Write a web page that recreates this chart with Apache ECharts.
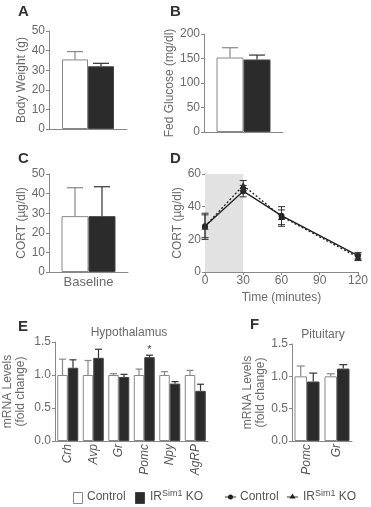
<!DOCTYPE html>
<html>
<head>
<meta charset="utf-8">
<script src="https://cdn.jsdelivr.net/npm/echarts@6/dist/echarts.min.js"></script>
<style>
  html, body { margin: 0; padding: 0; background: #fff; }
  #main { width: 371px; height: 507px; }
</style>
</head>
<body>
<div id="main"></div>
<script>
// panel A / B / C : control vs IR KO
var weightCtl = [35.5], weightCtlErr = [39.5];
var weightKo = [32], weightKoErr = [33.5];
var glucoseCtl = [152], glucoseCtlErr = [172];
var glucoseKo = [148], glucoseKoErr = [157];
var baseCats = ['Baseline'];
var cortCtl = [28.5], cortCtlErr = [43];
var cortKo = [28.5], cortKoErr = [43.5];

// panel D : time course
var timePts = [0, 30, 60, 120];
var timeCtl = [28, 49.5, 34.5, 10];
var timeCtlLo = [21, 46, 29, 8];
var timeCtlHi = [35, 53, 40, 12];
var timeKo = [28, 53, 34, 9];
var timeKoLo = [20, 50, 28, 7];
var timeKoHi = [36, 56, 38, 11];

// panel E : hypothalamus
var hypoGenes = ['Crh', 'Avp', 'Gr', 'Pomc', 'Npy', 'AgRP'];
var hypoCtl = [1.0, 1.0, 1.0, 1.0, 1.0, 1.0];
var hypoCtlErr = [1.24, 1.22, 1.02, 1.09, 1.05, 1.07];
var hypoKo = [1.11, 1.26, 0.97, 1.27, 0.87, 0.76];
var hypoKoErr = [1.23, 1.39, 1.01, 1.30, 0.90, 0.86];

// panel F : pituitary
var pitGenes = ['Pomc', 'Gr'];
var pitCtl = [1.0, 1.0];
var pitCtlErr = [1.16, 1.04];
var pitKo = [0.92, 1.12];
var pitKoErr = [1.05, 1.18];

var fontF = 'Liberation Sans, Arial, sans-serif';
var axisCol = '#888';
var txtCol = '#6a6a6a';
var blackFill = '#2b2b2b';

var myChart = echarts.init(document.getElementById('main'));

function errPairs(vals, tops) {
    return vals.map(function (v, i) { return [i, v, tops[i]]; });
}

// upward error bar over a bar, offset from the category centre
function barErr(offset, cap) {
    return function (params, api) {
        var b = api.coord([api.value(0), api.value(1)]);
        var t = api.coord([api.value(0), api.value(2)]);
        var x = b[0] + offset;
        var st = { stroke: api.visual('color'), lineWidth: 1.2 };
        return {
            type: 'group',
            children: [
                { type: 'line', shape: { x1: x, y1: b[1], x2: x, y2: t[1] }, style: st },
                { type: 'line', shape: { x1: x - cap / 2, y1: t[1], x2: x + cap / 2, y2: t[1] }, style: st }
            ]
        };
    };
}
// two-sided error bar on a value axis
function lineErr(cap) {
    return function (params, api) {
        var lo = api.coord([api.value(0), api.value(1)]);
        var hi = api.coord([api.value(0), api.value(2)]);
        var st = { stroke: '#333', lineWidth: 1 };
        return {
            type: 'group',
            children: [
                { type: 'line', shape: { x1: lo[0], y1: lo[1], x2: hi[0], y2: hi[1] }, style: st },
                { type: 'line', shape: { x1: lo[0] - cap / 2, y1: lo[1], x2: lo[0] + cap / 2, y2: lo[1] }, style: st },
                { type: 'line', shape: { x1: hi[0] - cap / 2, y1: hi[1], x2: hi[0] + cap / 2, y2: hi[1] }, style: st }
            ]
        };
    };
}

function yAx(idx, max, interval, name, gap, dec) {
    return {
        gridIndex: idx, type: 'value', min: 0, max: max, interval: interval,
        name: name, nameLocation: 'middle', nameGap: gap,
        nameTextStyle: { color: txtCol, fontSize: 12, fontFamily: fontF, lineHeight: 13 },
        axisLine: { show: true, lineStyle: { color: axisCol } },
        axisTick: { show: true, length: 3, lineStyle: { color: axisCol } },
        axisLabel: {
            color: txtCol, fontSize: 12, fontFamily: fontF, margin: 4,
            formatter: function (v) { return dec ? v.toFixed(1) : String(v); }
        },
        splitLine: { show: false }
    };
}
function xCat(idx, cats, label) {
    return {
        gridIndex: idx, type: 'category', data: cats,
        axisLine: { show: true, lineStyle: { color: axisCol } },
        axisTick: { show: false },
        axisLabel: label || { show: false }
    };
}

function barPair(idx, ctl, ctlTop, ko, koTop, bw, cap, starAt) {
    var koData = ko.map(function (v, i) {
        if (i !== starAt) return v;
        return { value: v, label: { show: true, position: 'top', distance: 2, formatter: '*', color: '#444', fontSize: 11 } };
    });
    return [
        { type: 'bar', xAxisIndex: idx, yAxisIndex: idx, data: ctl, barWidth: bw, barGap: '0%',
          itemStyle: { color: '#fff', borderColor: axisCol, borderWidth: 1 }, silent: true },
        { type: 'bar', xAxisIndex: idx, yAxisIndex: idx, data: koData, barWidth: bw, barGap: '0%',
          itemStyle: { color: blackFill, borderColor: '#444', borderWidth: 1 }, silent: true },
        { type: 'custom', xAxisIndex: idx, yAxisIndex: idx, renderItem: barErr(-bw / 2, cap),
          itemStyle: { color: axisCol }, data: errPairs(ctl, ctlTop), z: 5, silent: true },
        { type: 'custom', xAxisIndex: idx, yAxisIndex: idx, renderItem: barErr(bw / 2, cap),
          itemStyle: { color: '#333' }, data: errPairs(ko, koTop), z: 5, silent: true }
    ];
}

var letterStyle = { fontSize: 15, fontWeight: 'bold', color: '#333', fontFamily: fontF };
function letter(t, x, y) {
    return { text: t, left: x, top: y, padding: 0, textStyle: letterStyle };
}

var series = [];
series = series.concat(barPair(0, weightCtl, weightCtlErr, weightKo, weightKoErr, 26, 16));
series = series.concat(barPair(1, glucoseCtl, glucoseCtlErr, glucoseKo, glucoseKoErr, 27, 16));
series = series.concat(barPair(2, cortCtl, cortCtlErr, cortKo, cortKoErr, 27, 16));
series = series.concat(barPair(4, hypoCtl, hypoCtlErr, hypoKo, hypoKoErr, 10.5, 7, 3));
series = series.concat(barPair(5, pitCtl, pitCtlErr, pitKo, pitKoErr, 12.5, 8));

// panel D
series.push({
    type: 'line', xAxisIndex: 3, yAxisIndex: 3,
    data: timePts.map(function (t, i) { return [t, timeCtl[i]]; }),
    symbol: 'circle', symbolSize: 6, itemStyle: { color: '#222' },
    lineStyle: { color: '#222', width: 1.3 }, z: 4, silent: true,
    markArea: {
        silent: true, itemStyle: { color: '#e2e2e2' },
        data: [[{ xAxis: 0 }, { xAxis: 30 }]]
    }
});
series.push({
    type: 'line', xAxisIndex: 3, yAxisIndex: 3,
    data: timePts.map(function (t, i) { return [t, timeKo[i]]; }),
    symbol: 'triangle', symbolSize: 7, itemStyle: { color: '#222' },
    lineStyle: { color: '#222', width: 1.3, type: [2, 2] }, z: 4, silent: true
});
series.push({
    type: 'custom', xAxisIndex: 3, yAxisIndex: 3, renderItem: lineErr(7), z: 5, silent: true,
    data: timePts.map(function (t, i) { return [t, timeCtlLo[i], timeCtlHi[i]]; })
});
series.push({
    type: 'custom', xAxisIndex: 3, yAxisIndex: 3, renderItem: lineErr(7), z: 5, silent: true,
    data: timePts.map(function (t, i) { return [t, timeKoLo[i], timeKoHi[i]]; })
});

var legendTxt = {
    fill: '#555', fontSize: 12, fontFamily: fontF,
    rich: { s: { fontSize: 9, verticalAlign: 'top', padding: [0, 0, 6, 0], fill: '#555', fontFamily: fontF } }
};
var catLabel = { show: true, rotate: 90, fontStyle: 'italic', color: '#555', fontSize: 12, fontFamily: fontF, margin: 3, interval: 0 };

var option = {
    backgroundColor: '#fff',
    animation: false,
    title: [
        letter('A', 18, 4), letter('B', 170, 4), letter('C', 18, 151),
        letter('D', 170, 151), letter('E', 18, 319), letter('F', 250, 317),
        { text: 'Hypothalamus', left: 129, top: 327, textAlign: 'center', padding: 0,
          textStyle: { fontSize: 12, fontWeight: 'normal', color: txtCol, fontFamily: fontF } },
        { text: 'Pituitary', left: 323, top: 329, textAlign: 'center', padding: 0,
          textStyle: { fontSize: 12, fontWeight: 'normal', color: txtCol, fontFamily: fontF } }
    ],
    grid: [
        { left: 49, top: 31, width: 78, height: 98 },
        { left: 204, top: 34, width: 79, height: 98 },
        { left: 49, top: 174, width: 79, height: 98 },
        { left: 205, top: 174, width: 155, height: 98 },
        { left: 49, top: 342, width: 159, height: 99 },
        { left: 292, top: 344, width: 60, height: 97 }
    ],
    xAxis: [
        xCat(0, ['']),
        xCat(1, ['']),
        xCat(2, baseCats, { show: true, color: txtCol, fontSize: 13, fontFamily: fontF, margin: 4 }),
        {
            gridIndex: 3, type: 'value', min: 0, max: 120, interval: 30,
            name: 'Time (minutes)', nameLocation: 'middle', nameGap: 20,
            nameTextStyle: { color: txtCol, fontSize: 12, fontFamily: fontF },
            axisLine: { show: true, onZero: false, lineStyle: { color: axisCol } },
            axisTick: { show: true, length: 3, lineStyle: { color: axisCol } },
            axisLabel: { color: txtCol, fontSize: 12, fontFamily: fontF, margin: 3 },
            splitLine: { show: false }
        },
        xCat(4, hypoGenes, catLabel),
        xCat(5, pitGenes, catLabel)
    ],
    yAxis: [
        yAx(0, 50, 10, 'Body Weight (g)', 20),
        yAx(1, 200, 50, 'Fed Glucose (mg/dl)', 26),
        yAx(2, 50, 10, 'CORT (\u00b5g/dl)', 20),
        yAx(3, 60, 20, 'CORT (\u00b5g/dl)', 21),
        yAx(4, 1.5, 0.5, 'mRNA Levels\n(fold change)', 28, true),
        yAx(5, 1.5, 0.5, 'mRNA Levels\n(fold change)', 24, true)
    ],
    series: series,
    graphic: [
        { type: 'rect', left: 73, top: 492, shape: { width: 9, height: 11 }, style: { fill: '#fff', stroke: axisCol, lineWidth: 1 } },
        { type: 'text', left: 87, top: 491, style: Object.assign({ text: 'Control' }, legendTxt) },
        { type: 'rect', left: 135, top: 492, shape: { width: 9, height: 11 }, style: { fill: blackFill, stroke: '#444', lineWidth: 1 } },
        { type: 'text', left: 150, top: 489, style: Object.assign({ text: 'IR{s|Sim1} KO' }, legendTxt) },
        { type: 'line', shape: { x1: 225, y1: 497, x2: 236, y2: 497 }, style: { stroke: '#333', lineWidth: 1 } },
        { type: 'circle', shape: { cx: 230.5, cy: 497, r: 2.5 }, style: { fill: '#222' } },
        { type: 'text', left: 240, top: 491, style: Object.assign({ text: 'Control' }, legendTxt) },
        { type: 'line', shape: { x1: 287, y1: 497, x2: 298, y2: 497 }, style: { stroke: '#333', lineWidth: 1 } },
        { type: 'polygon', shape: { points: [[292.5, 493.5], [289.5, 498.5], [295.5, 498.5]] }, style: { fill: '#222' } },
        { type: 'text', left: 303, top: 489, style: Object.assign({ text: 'IR{s|Sim1} KO' }, legendTxt) }
    ]
};

myChart.setOption(option);
</script>
</body>
</html>
